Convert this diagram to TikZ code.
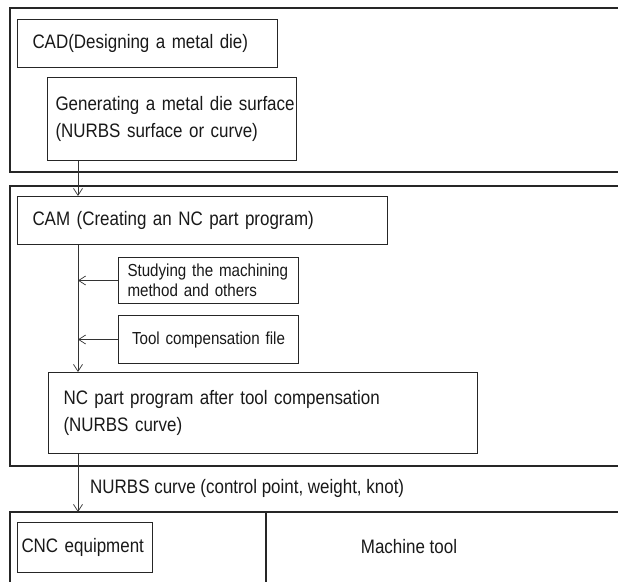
\documentclass[tikz,border=0pt]{standalone}
\usepackage{fontspec}
\setmainfont{Liberation Sans}
\newfontfamily\diagfont{Liberation Sans}[FakeStretch=0.87]
\usepackage{tikz}
\usetikzlibrary{arrows.meta,calc}

\tikzset{
  frame/.style={draw=black!85, line width=1.3pt},
  lbl/.style={font=\diagfont\fontsize{19.5}{27}\selectfont, text=black!90},
  box/.style={lbl, draw=black!85, line width=1pt, anchor=north west, align=left},
  smallbox/.style={box, font=\diagfont\fontsize{17.4}{20}\selectfont},
  arr/.style={draw=black!80, line width=0.7pt, -{Straight Barb[length=7pt,width=9pt]}},
}

\begin{document}
\begin{tikzpicture}[x=1pt,y=-1pt]
\useasboundingbox (0,0) rectangle (618,581);
\clip (0,0) rectangle (618,581);
\fill[white] (0,0) rectangle (618,581);
\draw[frame] (630,8) -- (10,8) -- (10,172) -- (630,172);
\draw[frame] (630,186) -- (10,186) -- (10,466) -- (630,466);
\draw[frame] (630,512) -- (10,512) -- (10,590);
\draw[frame] (266,512) -- (266,590);

\node[box, inner xsep=15pt, text width=230pt, minimum height=48pt] (cad) at (17,19) {\mbox{CAD(Designing a metal die)}};
\node[box, inner xsep=8pt, text width=233pt, minimum height=83pt] (gen) at (47,77) {\mbox{Generating a metal die surface}\\\mbox{(NURBS surface or curve)}};
\node[box, inner xsep=15pt, text width=340pt, minimum height=48pt] (cam) at (17,196) {\mbox{CAM (Creating an NC part program)}};
\node[smallbox, inner xsep=9pt, text width=162pt, minimum height=46pt] (study) at (118,257) {\mbox{Studying the machining}\\\mbox{method and others}};
\node[smallbox, align=center, inner xsep=8pt, text width=164pt, minimum height=48pt] (tcomp) at (118,315) {\mbox{Tool compensation file}};
\node[box, inner xsep=15pt, text width=399pt, minimum height=81pt] (ncprog) at (48,372) {\mbox{NC part program after tool compensation}\\\mbox{(NURBS curve)}};
\node[box, inner xsep=4pt, text width=127pt, minimum height=50pt] (cnc) at (17,522) {\mbox{CNC equipment}};
\node[lbl] (mtool) at (409,547) {Machine tool};
\node[lbl, anchor=west, inner sep=0pt] (nurbs) at (90,488) {NURBS curve (control point, weight, knot)};

\coordinate (spine) at (78,0);
\coordinate (devtop) at (78,512);
\draw[arr] (gen.south -| spine) -- (cam.north -| spine);
\draw[arr] (cam.south -| spine) -- (ncprog.north -| spine);
\draw[arr] (study.west) -- (study.west -| spine);
\draw[arr] (tcomp.west) -- (tcomp.west -| spine);
\draw[arr] (ncprog.south -| spine) -- (devtop);
\end{tikzpicture}
\end{document}
